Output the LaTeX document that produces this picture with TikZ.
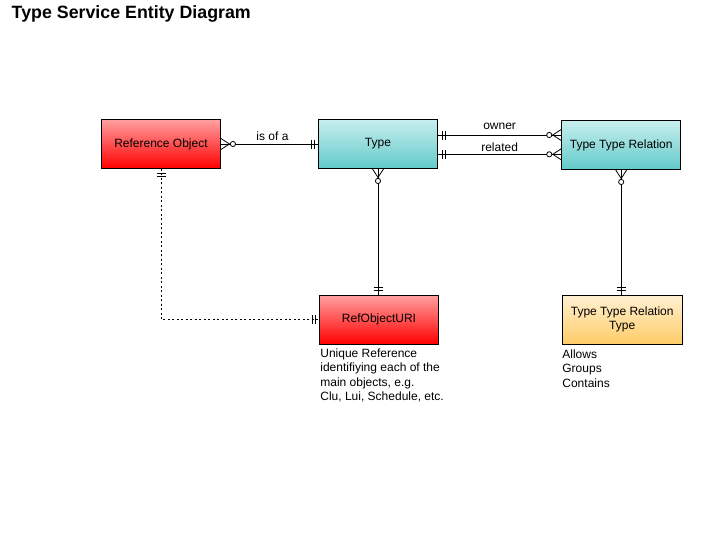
\documentclass[tikz,border=0pt]{standalone}
\usepackage{fontspec}
\setmainfont{Liberation Sans}
\usetikzlibrary{positioning}
\definecolor{redtop}{RGB}{255,160,160}
\definecolor{redbot}{RGB}{255,0,0}
\definecolor{cyantop}{RGB}{200,238,238}
\definecolor{cyanbot}{RGB}{98,202,202}
\definecolor{orangetop}{RGB}{255,240,210}
\definecolor{orangebot}{RGB}{255,204,102}
\tikzset{
  entity/.style={draw, line width=0.9pt, minimum width=119pt, minimum height=49pt,
    align=center, inner sep=2pt, font=\fontsize{12}{14}\selectfont},
  redent/.style={entity, top color=redtop, bottom color=redbot},
  cyanent/.style={entity, top color=cyantop, bottom color=cyanbot},
  orangeent/.style={entity, top color=orangetop, bottom color=orangebot},
  note/.style={anchor=north west, inner sep=0pt, align=left, font=\fontsize{12}{14.2}\selectfont},
  lbl/.style={above=3pt, inner sep=0pt, font=\fontsize{12}{14}\selectfont},
  bars/.pic={\draw (4,-4.5) -- (4,4.5) (7,-4.5) -- (7,4.5);},
  crow/.pic={\draw (0,-5.5) -- (8.5,0) -- (0,5.5);
    \draw[fill=white] (12,0) circle (2.6);}
}
\begin{document}
\begin{tikzpicture}[x=1pt, y=-1pt, line width=0.8pt]
  \useasboundingbox (0,0) rectangle (701,547);
  \node[anchor=base west, font=\fontsize{17.8}{20}\selectfont\bfseries] (title) at (8,18.7) {Type Service Entity Diagram};
  % entities
  \node[redent] (refobj) at (161,144) {Reference Object};
  \node[cyanent] (type) at (378,144) {Type};
  \node[cyanent] (ttr) at (621.2,145) {Type Type Relation};
  \node[redent] (uri) at (379,319.7) {RefObjectURI};
  \node[orangeent, minimum width=120pt] (ttrt) at (622.2,319.8) {Type Type Relation\\Type};
  % notes
  \node[note] (urinote) at (320,348.5) {Unique Reference\\identifiying each of the\\main objects, e.g.\\Clu, Lui, Schedule, etc.};
  \node[note] (ttrtnote) at (562,349.5) {Allows\\Groups\\Contains};
  % is of a
  \draw (refobj.east) -- (type.west) node[lbl, midway, xshift=3pt] {is of a};
  \pic at (refobj.east) {crow};
  \pic[rotate=180] at (type.west) {bars};
  % owner / related
  \coordinate (own) at ([yshift=9pt]type.east);
  \coordinate (rel) at ([yshift=-10.3pt]type.east);
  \draw (own) -- (own -| ttr.west) node[lbl, midway, above=5pt] {owner};
  \draw (rel) -- (rel -| ttr.west) node[lbl, midway, above=2pt] {related};
  \pic at (own) {bars};
  \pic at (rel) {bars};
  \pic[rotate=180] at (own -| ttr.west) {crow};
  \pic[rotate=180] at (rel -| ttr.west) {crow};
  % down to the lookup entities
  \draw (type.south) -- (type.south |- uri.north);
  \pic[rotate=-90] at (type.south) {crow};
  \pic[rotate=90] at (type.south |- uri.north) {bars};
  \draw (ttr.south) -- (ttr.south |- ttrt.north);
  \pic[rotate=-90] at (ttr.south) {crow};
  \pic[rotate=90] at (ttr.south |- ttrt.north) {bars};
  % dashed link
  \draw[dash pattern=on 2pt off 2.5pt] (refobj.south) |- (uri.west);
  \pic[rotate=-90] at (refobj.south) {bars};
  \pic[rotate=180] at (uri.west) {bars};
\end{tikzpicture}
\end{document}
